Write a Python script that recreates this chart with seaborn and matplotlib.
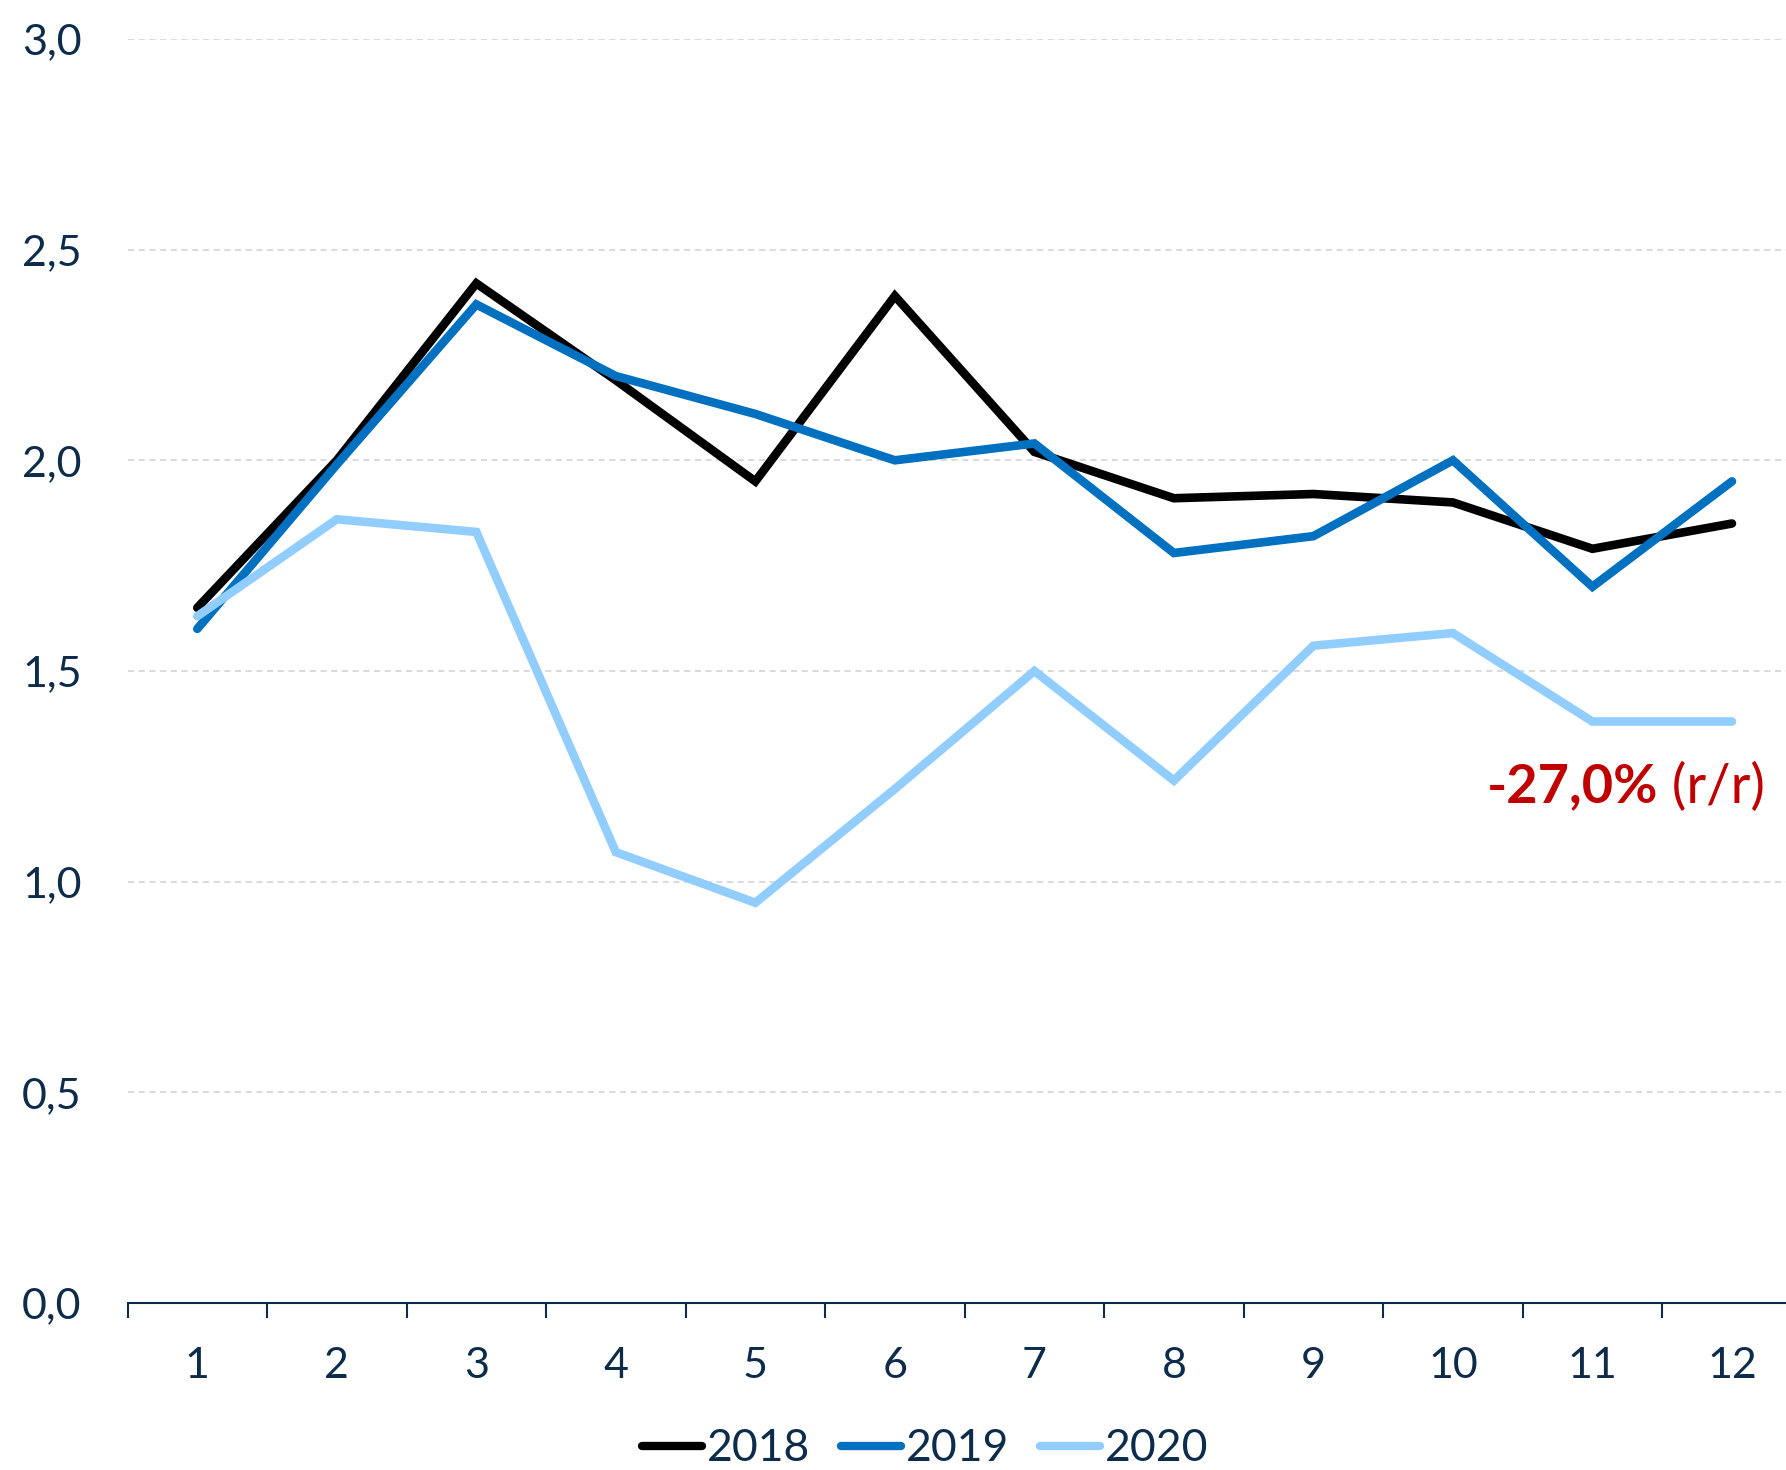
import numpy as np
import pandas as pd
import matplotlib.pyplot as plt
import seaborn as sns
from matplotlib.lines import Line2D

# ── data
MONTHS = list(range(1, 13))
Y2018 = [1.65, 2.00, 2.42, 2.19, 1.95, 2.39, 2.02, 1.91, 1.92, 1.90, 1.79, 1.85]
Y2019 = [1.60, 1.99, 2.37, 2.20, 2.11, 2.00, 2.04, 1.78, 1.82, 2.00, 1.70, 1.95]
Y2020 = [1.63, 1.86, 1.83, 1.07, 0.95, 1.22, 1.50, 1.24, 1.56, 1.59, 1.38, 1.38]
YEARS = ["2018", "2019", "2020"]
Y_TICKS = [0.0, 0.5, 1.0, 1.5, 2.0, 2.5, 3.0]
NOTE_BOLD = "-27,0%"
NOTE_REST = " (r/r)"

COLORS = {"2018": "#000000", "2019": "#0070C0", "2020": "#92CDFF"}
NAVY = "#0D2B4A"
RED = "#C00000"

sns.set_style("white")
plt.rcParams["font.family"] = ["Lato", "DejaVu Sans"]

df = pd.DataFrame({
    "pos": np.tile(np.arange(len(MONTHS)), 3),
    "value": Y2018 + Y2019 + Y2020,
    "year": np.repeat(YEARS, len(MONTHS)),
})

fig = plt.figure(figsize=(17.86, 14.7), dpi=100)
ax = fig.add_axes([0.0714, 0.1136, 0.9374, 0.8599])

sns.lineplot(data=df, x="pos", y="value", hue="year", palette=COLORS,
             lw=6.2, legend=False, ax=ax,
             solid_capstyle="round", solid_joinstyle="miter")

ax.set_xlim(-0.5, len(MONTHS) - 0.5)
ax.set_ylim(0, 3.0)
ax.set_yticks(Y_TICKS)
ax.set_yticklabels([f"{v:.1f}".replace(".", ",") for v in Y_TICKS])
ax.set_xticks(np.arange(len(MONTHS)))
ax.set_xticklabels([str(m) for m in MONTHS])
ax.set_xticks(np.arange(len(MONTHS) + 1) - 0.5, minor=True)
ax.tick_params(axis="x", which="major", bottom=False, length=0, pad=32,
               labelsize=31, labelcolor=NAVY)
ax.tick_params(axis="x", which="minor", bottom=True, length=11, width=1.5,
               color=NAVY, direction="out")
ax.tick_params(axis="y", length=0, pad=33, labelsize=31, labelcolor=NAVY)
ax.set_xlabel("")
ax.set_ylabel("")

ax.yaxis.grid(True, linestyle=(0, (4, 3)), color="#D0D0D0", linewidth=1.1)
ax.set_axisbelow(True)
for s in ["top", "right", "left"]:
    ax.spines[s].set_visible(False)
ax.spines["bottom"].set_color(NAVY)
ax.spines["bottom"].set_linewidth(1.5)
ax.spines["bottom"].set_zorder(5)

# annotation
ax.text(10.47, 1.225, NOTE_BOLD, color=RED, fontsize=39, fontweight="bold",
        ha="right", va="center")
ax.text(10.47, 1.225, NOTE_REST, color=RED, fontsize=39, ha="left", va="center")

handles = [Line2D([0], [0], color=COLORS[y], lw=6, solid_capstyle="round") for y in YEARS]
fig.legend(handles, YEARS, loc="center", bbox_to_anchor=(0.518, 0.0145),
           ncol=3, frameon=False, fontsize=32, labelcolor=NAVY,
           handlelength=1.35, handletextpad=0.1, columnspacing=0.7)

fig.savefig("out.png", dpi=100)
